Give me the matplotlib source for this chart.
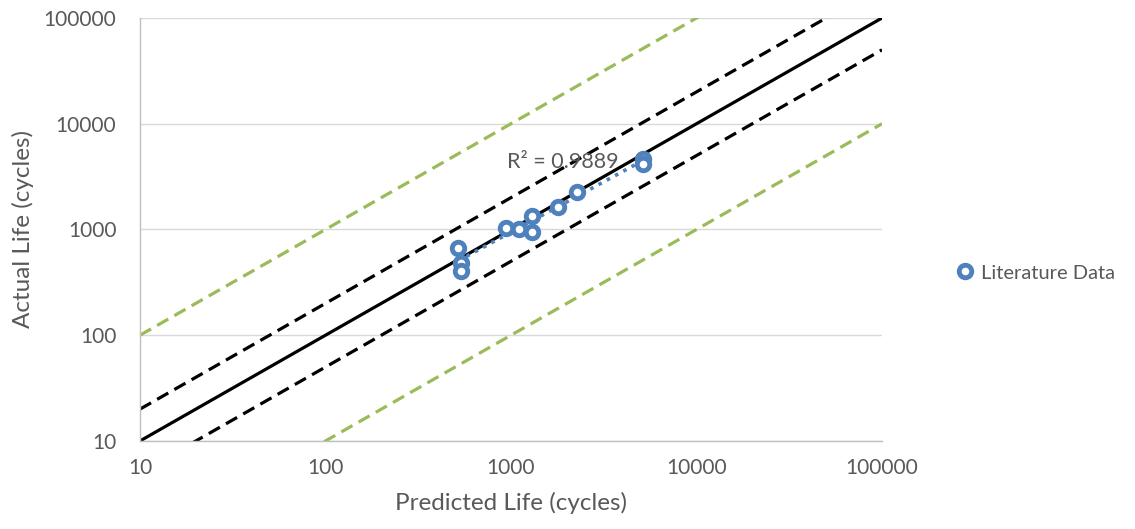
import numpy as np
import matplotlib
matplotlib.use('Agg')
import matplotlib.pyplot as plt

# Datos (ciclos)
predicted = [520, 537, 537, 940, 1110, 1294, 1294, 1787, 2259, 5130, 5130]
actual = [673, 482, 405, 1026, 1000, 1343, 946, 1644, 2281, 4600, 4200]
r2_text = 'R² = 0.9889'

# Lineas de referencia: factor sobre y = x
ref_factors = [1, 2, 0.5, 10, 0.1]
ref_colors = ['black', 'black', 'black', '#9BBB59', '#9BBB59']
ref_styles = ['-', (0, (4, 2.2)), (0, (4, 2.2)), (0, (4, 2.2)), (0, (4, 2.2))]

plt.rcParams['font.family'] = ['Lato', 'DejaVu Sans']
gray = '#595959'

fig = plt.figure(figsize=(11.35, 5.29), dpi=100)
ax = fig.add_axes([0.1233, 0.1664, 0.6538, 0.7996])

xr = np.array([10, 100000])
for f, c, ls in zip(ref_factors, ref_colors, ref_styles):
    ax.plot(xr, xr * f, color=c, linestyle=ls, linewidth=2.3, zorder=2)

# Linea de tendencia potencial
lx = np.log10(predicted)
ly = np.log10(actual)
b, a = np.polyfit(lx, ly, 1)
tx = np.linspace(min(predicted), max(predicted), 50)
ax.plot(tx, 10 ** a * tx ** b, color='#4F81BD', linestyle=(0, (1, 1.6)),
        linewidth=2.6, zorder=3)

ax.plot(predicted, actual, 'o', markersize=9, markerfacecolor='white',
        markeredgecolor='#4F81BD', markeredgewidth=3.5, zorder=4,
        label='Literature Data')

ax.text(1905, 4380, r2_text, color=gray, fontsize=15.5, ha='center',
        va='center', zorder=5)

ax.set_xscale('log')
ax.set_yscale('log')
ax.set_xlim(10, 100000)
ax.set_ylim(10, 100000)
ticks = [10, 100, 1000, 10000, 100000]
ax.set_xticks(ticks)
ax.set_xticklabels([str(t) for t in ticks])
ax.set_yticks(ticks)
ax.set_yticklabels([str(t) for t in ticks])
ax.minorticks_off()
ax.tick_params(length=0, labelsize=15, labelcolor=gray)
ax.tick_params(axis='x', pad=12)
ax.tick_params(axis='y', pad=17)
ax.grid(axis='y', color='#D9D9D9', linewidth=1)
ax.set_axisbelow(True)
for s in ['top', 'right']:
    ax.spines[s].set_visible(False)
for s in ['left', 'bottom']:
    ax.spines[s].set_color('#BFBFBF')
    ax.spines[s].set_linewidth(1)

ax.set_xlabel('Predicted Life (cycles)', fontsize=17.5, color=gray, labelpad=10)
ax.set_ylabel('Actual Life (cycles)', fontsize=17.5, color=gray, labelpad=7)

fig.legend(loc='center left', bbox_to_anchor=(0.8414, 0.484), frameon=False,
           fontsize=14.5, labelcolor=gray, handlelength=1, handletextpad=0.3,
           borderpad=0, borderaxespad=0)

fig.savefig('out.png', dpi=100)
